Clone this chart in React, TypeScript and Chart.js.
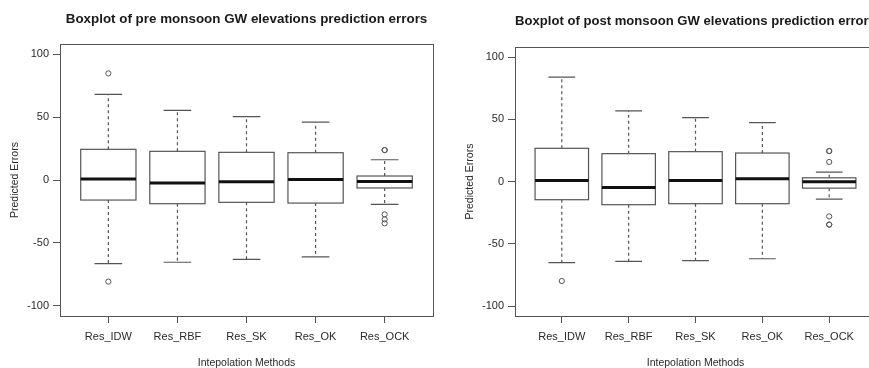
import React, { useEffect, useRef } from 'react';
import { Chart, registerables } from 'chart.js';

Chart.register(...registerables);
Chart.defaults.font.family = '"Liberation Sans", Arial, Helvetica, sans-serif';

// ---------- data ----------
const categories = ['Res_IDW', 'Res_RBF', 'Res_SK', 'Res_OK', 'Res_OCK'];
const yTickValues = [-100, -50, 0, 50, 100];

// pre monsoon
const preLower = [-66.4, -65.3, -63.0, -61.1, -19.3];
const preQ1 = [-15.9, -18.8, -17.7, -18.3, -6.3];
const preMedian = [0.8, -2.4, -1.3, 0.5, -1.1];
const preQ3 = [24.4, 22.8, 22.0, 21.7, 3.2];
const preUpper = [68.0, 55.3, 50.3, 46.0, 16.1];
const preOutliers = [[84.7, -80.7], [], [], [], [23.8, 23.8, -27.3, -31.2, -34.4]];

// post monsoon
const postLower = [-65.2, -64.1, -63.6, -62.0, -14.1];
const postQ1 = [-14.6, -18.6, -17.8, -17.8, -5.3];
const postMedian = [0.8, -4.8, 0.8, 2.2, -0.2];
const postQ3 = [26.7, 22.4, 24.0, 22.9, 3.0];
const postUpper = [83.9, 56.7, 51.4, 47.4, 7.5];
const postOutliers = [[-79.9], [], [], [], [24.5, 24.5, 15.7, -28.0, -34.6, -34.6]];

const TEXT = '#2a2a2a';
const LINE = '#555555';

function makeBoxPlugin(lower: number[], q1: number[], med: number[], q3: number[], upper: number[]) {
  return {
    id: 'rBoxes',
    beforeDatasetsDraw(chart: any) {
      const { ctx, chartArea, scales } = chart;
      const x = scales.x;
      const y = scales.y;
      ctx.save();
      // frame
      ctx.strokeStyle = LINE;
      ctx.lineWidth = 1;
      ctx.setLineDash([]);
      ctx.strokeRect(
        Math.round(chartArea.left) + 0.5,
        Math.round(chartArea.top) + 0.5,
        Math.round(chartArea.right - chartArea.left),
        Math.round(chartArea.bottom - chartArea.top)
      );
      categories.forEach((_, i) => {
        const c = i + 1;
        const xl = x.getPixelForValue(c - 0.4);
        const xr = x.getPixelForValue(c + 0.4);
        const xc = x.getPixelForValue(c);
        const cl = x.getPixelForValue(c - 0.2);
        const cr = x.getPixelForValue(c + 0.2);
        const yLo = y.getPixelForValue(lower[i]);
        const yQ1 = y.getPixelForValue(q1[i]);
        const yMed = y.getPixelForValue(med[i]);
        const yQ3 = y.getPixelForValue(q3[i]);
        const yHi = y.getPixelForValue(upper[i]);
        ctx.strokeStyle = LINE;
        ctx.lineWidth = 1.2;
        // whiskers (dashed)
        ctx.setLineDash([3, 3]);
        ctx.beginPath();
        ctx.moveTo(xc, yQ3);
        ctx.lineTo(xc, yHi);
        ctx.moveTo(xc, yQ1);
        ctx.lineTo(xc, yLo);
        ctx.stroke();
        ctx.setLineDash([]);
        // caps
        ctx.beginPath();
        ctx.moveTo(cl, yHi);
        ctx.lineTo(cr, yHi);
        ctx.moveTo(cl, yLo);
        ctx.lineTo(cr, yLo);
        ctx.stroke();
        // box
        ctx.fillStyle = '#ffffff';
        ctx.fillRect(xl, yQ3, xr - xl, yQ1 - yQ3);
        ctx.strokeRect(xl, yQ3, xr - xl, yQ1 - yQ3);
        // median
        ctx.strokeStyle = '#111111';
        ctx.lineWidth = 3;
        ctx.beginPath();
        ctx.moveTo(xl, yMed);
        ctx.lineTo(xr, yMed);
        ctx.stroke();
      });
      ctx.restore();
    },
  };
}

interface PanelProps {
  title: string;
  lower: number[];
  q1: number[];
  med: number[];
  q3: number[];
  upper: number[];
  outliers: number[][];
  left: number;
  top: number;
  width: number;
  height: number;
  padRight: number;
  titlePad: { top: number; bottom: number };
}

function BoxPanel(p: PanelProps) {
  const ref = useRef<HTMLCanvasElement>(null);
  useEffect(() => {
    const points: { x: number; y: number }[] = [];
    p.outliers.forEach((list, i) => list.forEach((v) => points.push({ x: i + 1, y: v })));
    const tickFont = { size: 11 };
    const chart = new Chart(ref.current as HTMLCanvasElement, {
      type: 'scatter',
      data: {
        datasets: [
          {
            data: points,
            pointRadius: 2.6,
            pointHoverRadius: 2.6,
            pointBorderWidth: 1,
            pointBorderColor: LINE,
            pointBackgroundColor: 'rgba(0,0,0,0)',
          },
        ],
      },
      options: {
        responsive: false,
        animation: false,
        events: [],
        layout: { padding: { left: 0, right: p.padRight, top: 0, bottom: 0 } },
        plugins: {
          legend: { display: false },
          tooltip: { enabled: false },
          title: {
            display: true,
            text: p.title,
            fullSize: false,
            color: '#1a1a1a',
            font: { size: 13.4, weight: 'bold' },
            padding: p.titlePad,
          },
        },
        scales: {
          x: {
            type: 'linear',
            min: 0.3,
            max: 5.7,
            afterBuildTicks: (a: any) => {
              a.ticks = categories.map((_, i) => ({ value: i + 1 }));
            },
            afterFit: (a: any) => {
              a.height = 52;
            },
            ticks: {
              autoSkip: false,
              maxRotation: 0,
              padding: 7,
              color: TEXT,
              font: tickFont,
              callback: (_v: any, i: number) => categories[i],
            },
            grid: { drawOnChartArea: false, drawTicks: true, tickLength: 7, color: LINE },
            border: { display: false },
            title: {
              display: true,
              text: 'Intepolation Methods',
              color: TEXT,
              font: { size: 10.5 },
              padding: { top: 0, bottom: -1.5 },
            },
          },
          y: {
            type: 'linear',
            min: -108,
            max: 108,
            afterBuildTicks: (a: any) => {
              a.ticks = yTickValues.map((v) => ({ value: v }));
            },
            afterFit: (a: any) => {
              a.width = 60;
            },
            ticks: { padding: 4, color: TEXT, font: tickFont },
            grid: { drawOnChartArea: false, drawTicks: true, tickLength: 7, color: LINE },
            border: { display: false },
            title: {
              display: true,
              text: 'Predicted Errors',
              color: TEXT,
              font: { size: 10.5 },
              padding: { top: 8.5, bottom: 0 },
            },
          },
        },
      } as any,
      plugins: [makeBoxPlugin(p.lower, p.q1, p.med, p.q3, p.upper)],
    });
    return () => chart.destroy();
  }, []);
  return (
    <canvas
      ref={ref}
      width={p.width}
      height={p.height}
      style={{ position: 'absolute', left: p.left, top: p.top, width: p.width, height: p.height, display: 'block' }}
    />
  );
}

export default function App() {
  return (
    <div
      style={{
        position: 'absolute',
        left: 0,
        top: 0,
        width: 869,
        height: 368,
        overflow: 'hidden',
        background: '#ffffff',
      }}
    >
      <BoxPanel
        title="Boxplot of pre monsoon GW elevations prediction errors"
        lower={preLower}
        q1={preQ1}
        med={preMedian}
        q3={preQ3}
        upper={preUpper}
        outliers={preOutliers}
        left={0}
        top={0}
        width={455}
        height={368}
        padRight={22}
        titlePad={{ top: 11.5, bottom: 16.5 }}
      />
      <BoxPanel
        title="Boxplot of post monsoon GW elevations prediction errors"
        lower={postLower}
        q1={postQ1}
        med={postMedian}
        q3={postQ3}
        upper={postUpper}
        outliers={postOutliers}
        left={455}
        top={2}
        width={455}
        height={366}
        padRight={34}
        titlePad={{ top: 11.5, bottom: 17.5 }}
      />
    </div>
  );
}
